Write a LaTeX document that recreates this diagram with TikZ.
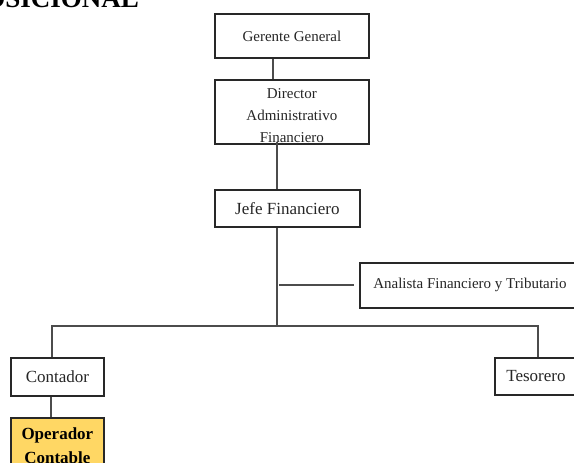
\documentclass[tikz,border=0pt]{standalone}
\usepackage{fontspec}
\setmainfont{Liberation Serif}
\newcommand\fsz[2]{\fontsize{#1}{#2}\selectfont}
\definecolor{opfill}{RGB}{255,215,100}
\definecolor{inkgray}{RGB}{40,40,40}
\begin{document}
\begin{tikzpicture}[x=1pt,y=-1pt,
  box/.style={draw=inkgray, line width=1.8pt, fill=white, anchor=north west,
              inner sep=2pt, text=black!85, font=\fsz{15}{22}},
  bigtxt/.style={font=\fsz{17}{24}},
  conn/.style={draw=black!70, line width=1.9pt}]
\useasboundingbox (0,0) rectangle (574,463);

% heading, cut at the top edge of the sheet
\node[font=\bfseries\fsz{27}{27}, anchor=base east, inner sep=0pt] (title) at (139,7) {POSICIONAL};

% boxes
\node[box, minimum width=154pt, minimum height=44pt] (gg) at (214,13) {Gerente General};
\node[box, minimum width=154pt, minimum height=64pt] (dir) at (214,79) {};
\node[font=\fsz{15}{22}, align=center, text=black!85] (dirtxt) at ([yshift=-4pt]dir.center)
  {Director\\Administrativo\\Financiero};
\node[box, bigtxt, minimum width=145pt, minimum height=37pt] (jf) at (214,189) {Jefe Financiero};
\node[box, minimum width=220pt, minimum height=45pt] (ana) at (359,262) {Analista Financiero y Tributario};
\node[box, bigtxt, minimum width=93pt, minimum height=38pt] (ct) at (10,357) {Contador};
\node[box, bigtxt, minimum width=88pt, minimum height=37pt] (ts) at (494,357) {\hspace*{-6pt}Tesorero};
\node[box, fill=opfill, minimum width=93pt, minimum height=56pt, align=center,
      font=\bfseries\fsz{17}{24}, text=black] (op) at (10,417) {Operador\\Contable};

% reporting lines
\coordinate (top) at (273,0);
\coordinate (sp) at (277,0);
\coordinate (busL) at (52,326);
\coordinate (busR) at (538,326);
\coordinate (opx) at (51,0);

\draw[conn] (top |- gg.south) -- (top |- dir.north);
\draw[conn] ([yshift=3pt]sp |- dir.south) -- (sp |- jf.north);
\draw[conn] (sp |- jf.south) -- (sp |- busL);
\draw[conn, shorten <=2pt, shorten >=5pt] (sp |- ana.west) -- (ana.west);
\draw[conn] (busL |- ct.north) -- (busL) -- (busR) -- (busR |- ts.north);
\draw[conn] (opx |- ct.south) -- (opx |- op.north);
\end{tikzpicture}
\end{document}
